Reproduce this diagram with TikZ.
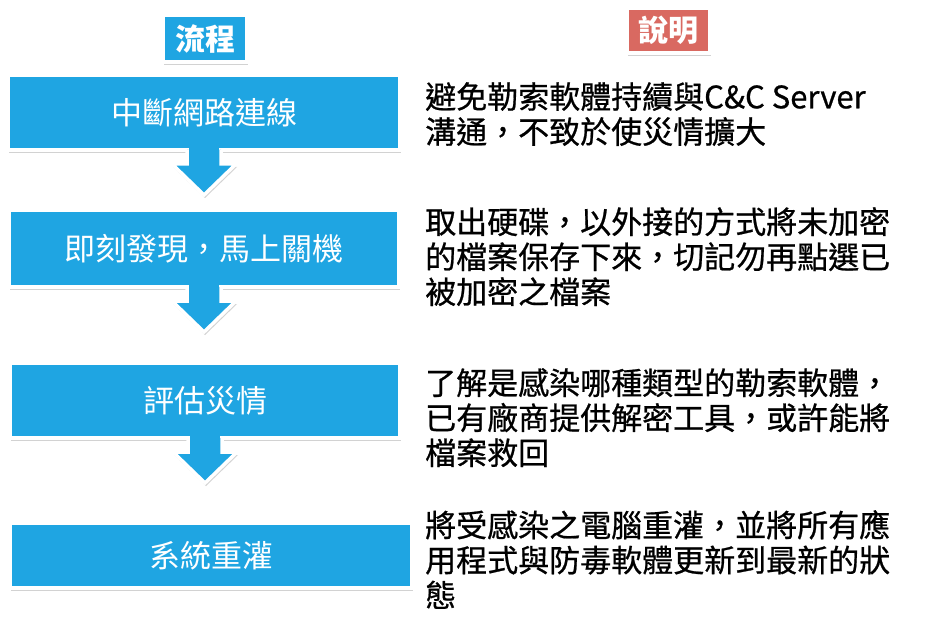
\documentclass[tikz,border=0pt]{standalone}
\usepackage{fontspec}
\setmainfont{Noto Sans CJK TC}[Script=CJK,Language=Chinese Traditional]
\newfontfamily\notefont{Noto Sans CJK TC}[Script=CJK,Language=Chinese Traditional,FakeBold=0.7]
\usetikzlibrary{shadows}
\definecolor{flowblue}{RGB}{31,165,226}
\definecolor{notered}{RGB}{217,105,97}
\begin{document}
\begin{tikzpicture}[x=1pt,y=-1pt,font=\fontsize{31}{35}\selectfont]
			\tikzset{box/.style={fill=flowblue,draw=white,line width=3.5pt,outer sep=0pt,inner sep=0pt,text=white,
					drop shadow={shadow xshift=1pt,shadow yshift=-3pt,fill=black!35,opacity=.5}}}
			\tikzset{head/.style={box,font=\fontsize{30}{30}\selectfont\bfseries}}
			\tikzset{desc/.style={anchor=north west,align=left,inner sep=0pt,text=black,font=\fontsize{31}{35}\notefont}}
			\tikzset{flowarrow/.style={fill=flowblue,draw=white,line width=3.5pt,
					drop shadow={shadow xshift=1pt,shadow yshift=-3pt,fill=black!35,opacity=.5}}}
			\def \stem{17} \def \wing{15} \def \neck{14} \def \tip{31}
			\def\arrowdown#1{%
				\fill[flowblue] ([xshift=-15.25pt,yshift=3pt]#1.south) rectangle ([xshift=15.25pt,yshift=-1pt]#1.south);
				\draw[flowarrow] ([xshift=-\stem pt]#1.south) -- ++(0,\neck) -- ++(-\wing,0) -- ++(\stem+\wing,\tip)
					-- ++(\stem+\wing,-\tip) -- ++(-\wing,0) -- ++(0,-\neck);}
			\useasboundingbox (0,0) rectangle (926,639);
			% headers
			\node[head,minimum width=84,minimum height=47] (flow) at (205,38.5) {流程};
			\node[head,fill=notered,minimum width=83,minimum height=45] (note) at (668.5,30.5) {說明};
			% steps
			\node[box,minimum width=392,minimum height=75] (s1) at (204,112.5) {中斷網路連線};
			\node[box,minimum width=390,minimum height=77] (s2) at (204,248.5) {即刻發現，馬上關機};
			\node[box,minimum width=390,minimum height=75] (s3) at (205,400.5) {評估災情};
			\node[box,minimum width=402,minimum height=65] (s4) at (211,555.5) {系統重灌};
			\arrowdown{s1}
			\arrowdown{s2}
			\arrowdown{s3}
			% notes
			\node[desc] (d1) at (425,82) {避免勒索軟體持續與C\&C Server\\溝通，不致於使災情擴大};
			\node[desc] (d2) at (425,207) {取出硬碟，以外接的方式將未加密\\的檔案保存下來，切記勿再點選已\\被加密之檔案};
			\node[desc] (d3) at (425,368) {了解是感染哪種類型的勒索軟體，\\已有廠商提供解密工具，或許能將\\檔案救回};
			\node[desc] (d4) at (425,510) {將受感染之電腦重灌，並將所有應\\用程式與防毒軟體更新到最新的狀\\態};
		\end{tikzpicture}
\end{document}
